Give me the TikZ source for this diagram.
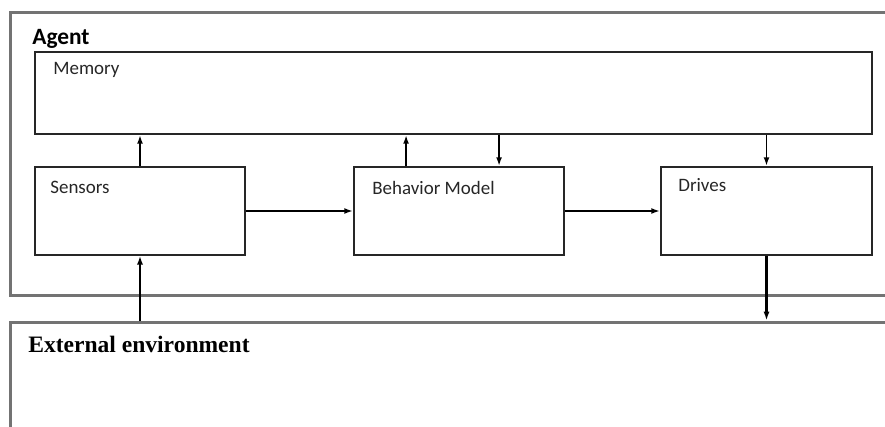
\documentclass[tikz,border=0pt]{standalone}
\usepackage{fontspec}
\newfontfamily\bodyfont{Carlito}
\newfontfamily\envfont{Liberation Serif}
\usetikzlibrary{arrows.meta}
\usetikzlibrary{calc}

\tikzset{
  outerbox/.style={draw=black!55, line width=1.7pt, inner sep=0pt},
  unitbox/.style={draw=black!85, line width=1.1pt, inner sep=0pt},
  boxtext/.style={anchor=base west, inner sep=0pt, font=\bodyfont\fontsize{10.8}{12}\selectfont, text=black!85},
  flow/.style={line width=1pt, -{Latex[length=5pt,width=3.4pt]}},
  envflow/.style={line width=1.6pt, -{Latex[length=5pt,width=3.6pt]}}
}

\begin{document}
\begin{tikzpicture}[x=0.02cm, y=-0.02cm]
      \useasboundingbox (0,0) rectangle (885,426);
      \clip (0,0) rectangle (885,426);

      \node[outerbox, minimum width=17.7cm, minimum height=5.68cm] (agent) at (452.5,154) {};
      \node[outerbox, minimum width=17.7cm, minimum height=2.36cm] (env) at (452.5,381) {};

      \node[unitbox, minimum width=16.74cm, minimum height=1.64cm] (memory) at (453.5,93) {};
      \node[unitbox, minimum width=4.2cm, minimum height=1.76cm] (sensors) at (140,211) {};
      \node[unitbox, minimum width=4.2cm, minimum height=1.76cm] (behavior) at (459,211) {};
      \node[unitbox, minimum width=4.22cm, minimum height=1.76cm] (drives) at (766.5,211) {};

      \node[anchor=base west, inner sep=0pt, font=\bodyfont\bfseries\fontsize{13.3}{15}\selectfont] (agenttxt) at (32,44) {Agent};
      \node[boxtext] (memorytxt) at (53,74) {Memory};
      \node[boxtext] (sensorstxt) at (50,193) {Sensors};
      \node[boxtext] (behaviortxt) at (372,194) {Behavior Model};
      \node[boxtext] (drivestxt) at (678,191) {Drives};
      \node[anchor=base west, inner sep=0pt, font=\envfont\bfseries\fontsize{13.4}{15}\selectfont] (envtxt) at (28,352) {External environment};

      \coordinate (bup) at ($(behavior.north west)+(53,0)$);
      \coordinate (bdown) at ($(behavior.north west)+(146,0)$);

      \draw[flow] (sensors.north) -- (sensors.north |- memory.south);
      \draw[flow] (bup) -- (bup |- memory.south);
      \draw[flow] (bdown |- memory.south) -- (bdown);
      \draw[flow] (drives.north |- memory.south) -- (drives.north);
      \draw[flow] (sensors.east) -- (behavior.west);
      \draw[flow] (behavior.east) -- (drives.west);
      \draw[envflow] (sensors.south |- env.north) -- (sensors.south);
      \draw[flow, line width=1.2pt] (drives.south) -- (drives.south |- env.north);
    \end{tikzpicture}
\end{document}
